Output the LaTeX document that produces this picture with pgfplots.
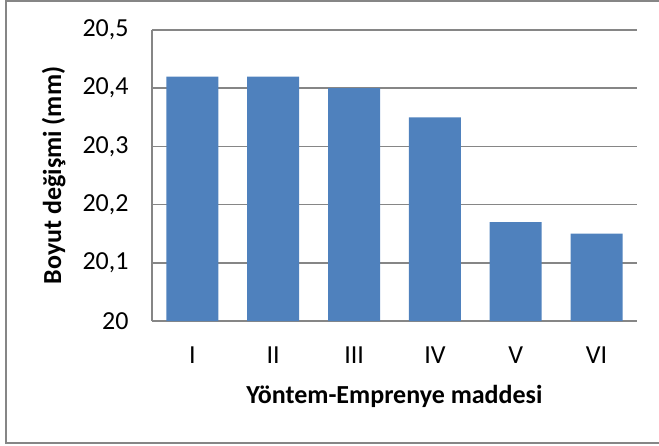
\documentclass[border=0pt]{standalone}
\usepackage{pgfplots}
\pgfplotsset{compat=1.18}
\usepackage{fontspec}
\setmainfont{Carlito}
\definecolor{barblue}{RGB}{79,129,189}
\definecolor{gridgray}{RGB}{134,134,134}
\begin{document}
\begin{tikzpicture}
\useasboundingbox (-76pt,-62pt) rectangle (253.5pt,160.5pt);
\draw[gridgray, line width=0.75pt] (254pt,160pt) -- (-73pt,160pt) -- (-73pt,-61pt) -- (254pt,-61pt);
\begin{axis}[
  at={(0,0)}, anchor=south west,
  scale only axis, width=242.5pt, height=145.5pt,
  xmin=-0.5, xmax=5.5, ymin=20, ymax=20.5,
  ybar, bar width=26pt,
  xtick={0,1,2,3,4,5}, xticklabels={I,II,III,IV,V,VI},
  ytick={20,20.1,20.2,20.3,20.4,20.5},
  yticklabels={20,{20,1},{20,2},{20,3},{20,4},{20,5}},
  ymajorgrids, grid style={gridgray, line width=0.75pt},
  major tick length=0pt,
  axis x line*=bottom, axis y line*=left,
  axis line style={gridgray, line width=0.75pt, -},
  tick label style={font=\fontsize{13}{15}\selectfont, black},
  yticklabel style={anchor=east, xshift=-8.2pt},
  xticklabel style={anchor=north, yshift=-9.2pt},
  label style={font=\bfseries\fontsize{13}{15}\selectfont, black},
  xlabel={Yöntem-Emprenye maddesi},
  xlabel style={at={(axis description cs:0.5,-0.2852)}, anchor=base},
  ylabel={Boyut değişmi (mm)},
  ylabel style={at={(axis description cs:-0.1876,0.5)}, rotate=0, anchor=base},
  clip=false,
]
\addplot[fill=barblue, draw=none] coordinates {(0,20.42) (1,20.42) (2,20.40) (3,20.35) (4,20.17) (5,20.15)};
\end{axis}
\end{tikzpicture}
\end{document}
